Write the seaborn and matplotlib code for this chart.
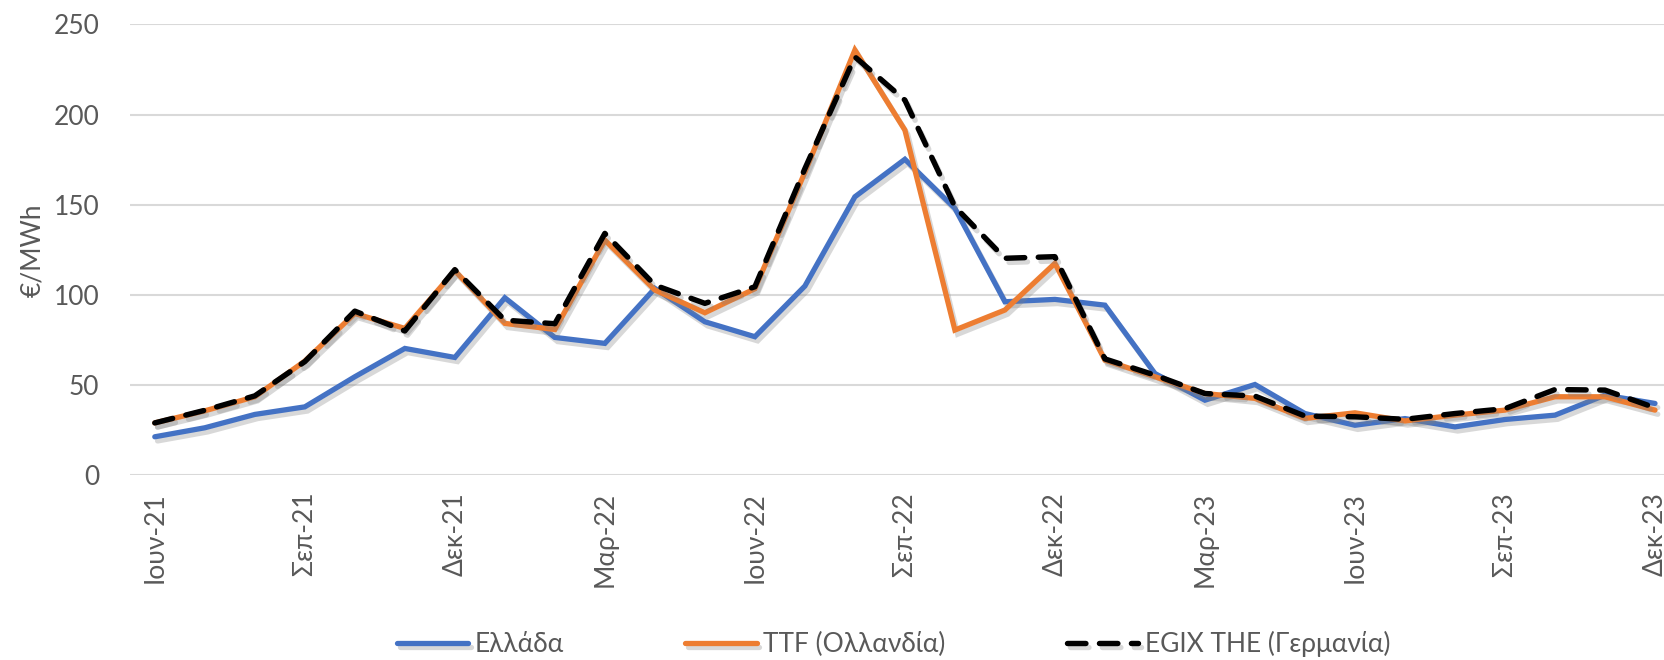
import pandas as pd
import seaborn as sns
import matplotlib.pyplot as plt
import matplotlib.patheffects as pe

# Μηνιαίες τιμές φυσικού αερίου (€/MWh), Ιούν-21 έως Δεκ-23
months = ["Ιουν-21", "Ιουλ-21", "Αυγ-21", "Σεπ-21", "Οκτ-21", "Νοε-21", "Δεκ-21",
          "Ιαν-22", "Φεβ-22", "Μαρ-22", "Απρ-22", "Μαϊ-22", "Ιουν-22", "Ιουλ-22",
          "Αυγ-22", "Σεπ-22", "Οκτ-22", "Νοε-22", "Δεκ-22", "Ιαν-23", "Φεβ-23",
          "Μαρ-23", "Απρ-23", "Μαϊ-23", "Ιουν-23", "Ιουλ-23", "Αυγ-23", "Σεπ-23",
          "Οκτ-23", "Νοε-23", "Δεκ-23"]

ellada = [21.3, 26.3, 33.7, 37.9, 54.6, 70.3, 65.3, 98.4, 76.4, 73.1, 103.6, 85.1,
          76.8, 104.9, 154.4, 175.2, 148.0, 96.2, 97.5, 94.3, 56.4, 41.6, 50.3, 34.2,
          27.7, 31.4, 26.8, 30.9, 33.3, 44.4, 39.8]
ttf = [29.0, 35.7, 43.5, 63.3, 89.7, 81.4, 113.4, 84.2, 80.8, 130.4, 102.7, 90.1,
       103.4, 168.0, 235.8, 191.4, 80.5, 91.6, 117.5, 63.8, 54.6, 45.3, 42.6, 31.5,
       34.6, 30.1, 33.3, 36.1, 43.5, 43.5, 36.1]
egix = [29.0, 36.0, 44.0, 63.0, 91.0, 80.0, 114.0, 86.0, 84.0, 134.1, 105.4, 95.3,
        104.5, 170.0, 232.0, 208.0, 148.9, 120.3, 121.2, 64.5, 55.5, 45.3, 43.9, 32.8,
        32.4, 31.0, 34.2, 36.9, 47.5, 47.2, 37.4]

series_names = ["Ελλάδα", "TTF (Ολλανδία)", "EGIX THE (Γερμανία)"]
colors = ["#4472C4", "#ED7D31", "#000000"]
tick_idx = list(range(0, 31, 3))

df = pd.DataFrame({"idx": range(len(months)), "month": months,
                   series_names[0]: ellada, series_names[1]: ttf, series_names[2]: egix})

sns.set_style("white")
plt.rcParams["font.family"] = ["Lato", "DejaVu Sans"]
text_color = "#595959"
fs = 19

fig = plt.figure(figsize=(16.64, 6.6), dpi=100)
ax = fig.add_axes([0.078, 0.280, 0.922, 0.683])

shadow = [pe.SimpleLineShadow(offset=(2, -3), shadow_color="#808080", alpha=0.3),
          pe.Normal()]

sns.lineplot(data=df, x="idx", y=series_names[0], ax=ax, color=colors[0],
             linewidth=3.8, label=series_names[0])
sns.lineplot(data=df, x="idx", y=series_names[1], ax=ax, color=colors[1],
             linewidth=3.8, label=series_names[1])
sns.lineplot(data=df, x="idx", y=series_names[2], ax=ax, color=colors[2],
             linewidth=3.9, label=series_names[2])

for ln in ax.get_lines():
    ln.set_path_effects(shadow)
    ln.set_solid_joinstyle("miter")
black = ax.get_lines()[2]
black.set_dashes((3.4, 2.5))
black.set_dash_capstyle("round")

# η τελευταία ετικέτα κόβεται στο δεξί άκρο, όπως στο πρωτότυπο
ax.set_xlim(-0.5, 30.18)
ax.set_ylim(0, 250)
ax.set_yticks([0, 50, 100, 150, 200, 250])
ax.set_xticks(tick_idx)
ax.set_xticklabels([months[i] for i in tick_idx], rotation=90)
ax.tick_params(axis="both", length=0, labelsize=fs, labelcolor=text_color)
ax.tick_params(axis="x", pad=12)
ax.tick_params(axis="y", pad=22)
ax.grid(axis="y", color="#d9d9d9", linewidth=1.5)
ax.set_axisbelow(True)
for s in ax.spines.values():
    s.set_visible(False)

ax.set_xlabel("")
ax.set_ylabel("€/MWh", fontsize=fs, color=text_color, labelpad=6)

ax.get_legend().remove()
handles, labels = ax.get_legend_handles_labels()
leg = fig.legend(handles, labels, loc="lower center", bbox_to_anchor=(0.537, -0.032),
                 ncol=3, frameon=False, fontsize=fs, handlelength=2.7,
                 columnspacing=4.6, handletextpad=0.25)
for t in leg.get_texts():
    t.set_color(text_color)

fig.savefig("out.png", dpi=100)
